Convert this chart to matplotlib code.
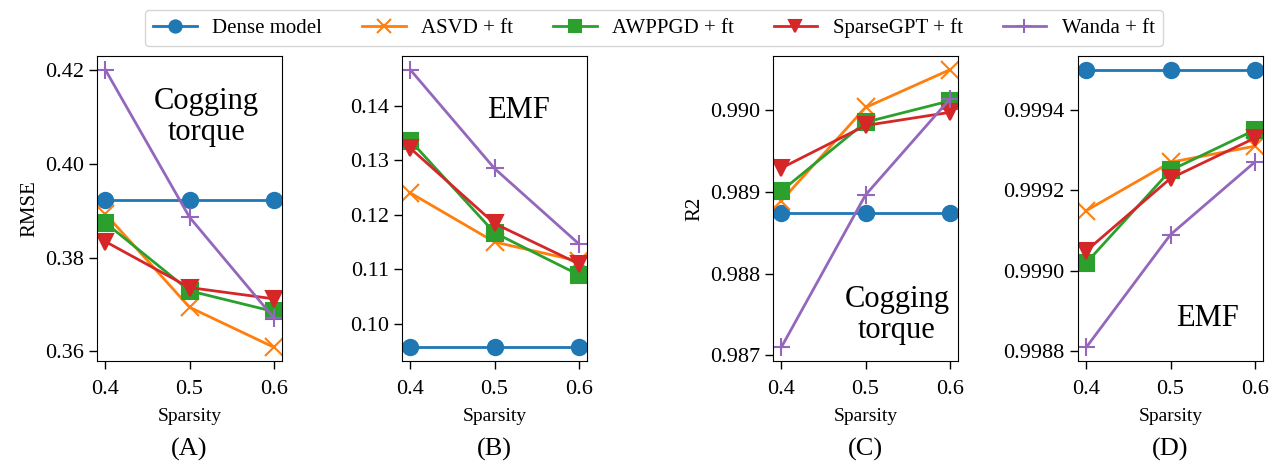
import matplotlib
matplotlib.use("Agg")
import matplotlib.pyplot as plt

plt.rcParams['font.family'] = ['Liberation Serif', 'DejaVu Serif']

sparsity = [0.4, 0.5, 0.6]
methods = ["Dense model", "ASVD + ft", "AWPPGD + ft", "SparseGPT + ft", "Wanda + ft"]
markers = ["o", "x", "s", "v", "+"]
colors = ["#1f77b4", "#ff7f0e", "#2ca02c", "#d62728", "#9467bd"]

# (A) RMSE, cogging torque
rmse_cog = [
    [0.3923, 0.3923, 0.3923],
    [0.3893, 0.3694, 0.3609],
    [0.3874, 0.3729, 0.3685],
    [0.3834, 0.3736, 0.3712],
    [0.4200, 0.3886, 0.3672],
]
# (B) RMSE, EMF
rmse_emf = [
    [0.0957, 0.0957, 0.0957],
    [0.1240, 0.1150, 0.1115],
    [0.1336, 0.1167, 0.1090],
    [0.1322, 0.1184, 0.1110],
    [0.1466, 0.1285, 0.1147],
]
# (C) R2, cogging torque
r2_cog = [
    [0.98874, 0.98874, 0.98874],
    [0.98889, 0.99003, 0.99049],
    [0.98901, 0.98985, 0.99011],
    [0.98929, 0.98981, 0.98997],
    [0.98710, 0.98896, 0.99013],
]
# (D) R2, EMF
r2_emf = [
    [0.99950, 0.99950, 0.99950],
    [0.99915, 0.99927, 0.99931],
    [0.99902, 0.99925, 0.99935],
    [0.99905, 0.99923, 0.99933],
    [0.99881, 0.99909, 0.99927],
]

panels = [
    (rmse_cog, "RMSE", "(A)", "Cogging\ntorque", (0.59, 0.80), [0.36, 0.38, 0.40, 0.42], "%.2f"),
    (rmse_emf, "", "(B)", "EMF", (0.63, 0.82), [0.10, 0.11, 0.12, 0.13, 0.14], "%.2f"),
    (r2_cog, "R2", "(C)", "Cogging\ntorque", (0.67, 0.15), [0.987, 0.988, 0.989, 0.990], "%.3f"),
    (r2_emf, "", "(D)", "EMF", (0.70, 0.14), [0.9988, 0.9990, 0.9992, 0.9994], "%.4f"),
]
lefts = [97, 402, 773, 1078]

fig = plt.figure(figsize=(12.76, 4.62), dpi=100)
W, H = 1276, 462
handles = []
for k, (data, ylab, tag, note, pos, yticks, fmt) in enumerate(panels):
    ax = fig.add_axes([lefts[k] / W, (H - 361) / H, 185 / W, 305 / H])
    for i, m in enumerate(methods):
        ms = 13 if markers[i] in ("x", "+") else 11
        l, = ax.plot(sparsity, data[i], marker=markers[i], color=colors[i], lw=2,
                     markersize=ms, mew=1.5, label=m)
        if k == 0:
            handles.append(l)
    ax.set_xticks(sparsity)
    ax.set_xticklabels(["0.4", "0.5", "0.6"])
    ax.set_yticks(yticks)
    ax.set_yticklabels([fmt % v for v in yticks])
    ax.tick_params(labelsize=16, length=6, width=1)
    ax.tick_params(axis="x", pad=8)
    ax.set_xlabel("Sparsity", fontsize=14, labelpad=6)
    if ylab:
        ax.set_ylabel(ylab, fontsize=15)
    ax.text(pos[0], pos[1], note, transform=ax.transAxes, fontsize=22,
            ha="center", va="center", linespacing=1.1)
    ax.text(0.5, -0.29, tag, transform=ax.transAxes, fontsize=19, ha="center", va="center")

fig.legend(handles=handles, loc="upper center", bbox_to_anchor=(0.5125, 0.988), ncol=5,
           fontsize=15, handlelength=2.1, handletextpad=0.75, columnspacing=1.9,
           markerscale=0.8, borderaxespad=0.2)
fig.savefig("out.png", dpi=100)
